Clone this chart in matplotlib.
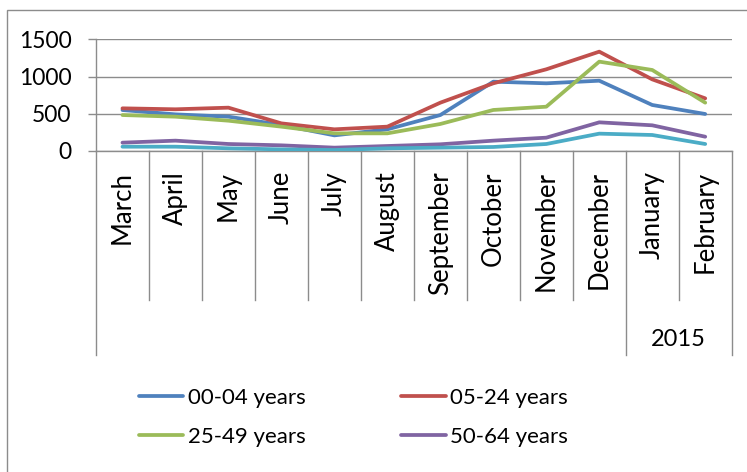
import matplotlib
matplotlib.use("Agg")
import matplotlib.pyplot as plt
import matplotlib.transforms as mtransforms
from matplotlib.lines import Line2D
from matplotlib.patches import Rectangle

plt.rcParams['font.family'] = ['Lato', 'DejaVu Sans']

# ---- data ----
months = ["March", "April", "May", "June", "July", "August", "September",
          "October", "November", "December", "January", "February"]
year_groups = ["", "2015"]
year_group_sizes = [10, 2]
series_names = ["00-04 years", "05-24 years", "25-49 years", "50-64 years", "65+ years"]
s0004 = [550, 492, 461, 349, 210, 291, 483, 931, 909, 944, 618, 497]
s0524 = [573, 560, 582, 371, 291, 327, 649, 909, 1097, 1334, 962, 707]
s2549 = [483, 461, 407, 327, 237, 237, 363, 551, 595, 1200, 1088, 649]
s5064 = [112, 139, 94, 76, 45, 67, 90, 139, 179, 385, 345, 192]
s65plus = [58, 58, 36, 22, 13, 36, 45, 54, 94, 233, 215, 94]
yticks = [0, 500, 1000, 1500]

colors = ["#4F81BD", "#C0504D", "#9BBB59", "#8064A2", "#4BACC6"]
W, H = 747, 472
fig = plt.figure(figsize=(W / 100, H / 100), dpi=100)

def fx(px):
    return px / W

def fy(py):
    return 1 - py / H

ax_left, ax_right, ax_top, ax_bot = 96, 731.7, 39.3, 151
ax = fig.add_axes([fx(ax_left), fy(ax_bot), fx(ax_right - ax_left), (ax_bot - ax_top) / H])

x = list(range(len(months)))
all_series = [s0004, s0524, s2549, s5064, s65plus]
handles = []
for vals, c, name in zip(all_series, colors, series_names):
    h, = ax.plot(x, vals, color=c, lw=2.7, solid_joinstyle='round', solid_capstyle='round', zorder=3)
    handles.append(h)

ax.set_xlim(-0.5, len(months) - 0.5)
ax.set_ylim(0, 1500)
ax.set_yticks(yticks)
ax.set_yticklabels([str(v) for v in yticks], fontsize=16.5)
ax.yaxis.grid(True, color="#8C8C8C", lw=1.0)
ax.set_axisbelow(True)
ax.tick_params(axis='y', length=6, width=1.0, color="#8C8C8C", pad=11.5)
ax.set_xticks([])
for s in ["top", "right"]:
    ax.spines[s].set_visible(False)
for s in ["left", "bottom"]:
    ax.spines[s].set_color("#8C8C8C")
    ax.spines[s].set_linewidth(1.0)

# category dividers and labels
trans = mtransforms.blended_transform_factory(ax.transData, fig.transFigure)
group_edges = [-0.5]
acc = -0.5
for n in year_group_sizes:
    acc += n
    group_edges.append(acc)
for i in range(len(months) + 1):
    xb = i - 0.5
    bottom = 355 if xb in group_edges else 300
    ax.add_line(Line2D([xb, xb], [fy(ax_bot), fy(bottom)], transform=trans,
                       color="#8C8C8C", lw=1.0, clip_on=False))
for i, m in enumerate(months):
    ax.text(i, fy(171), m, transform=trans, rotation=90, ha='center', va='top', fontsize=18.5)
start = -0.5
for g, n in zip(year_groups, year_group_sizes):
    if g:
        ax.text(start + n / 2, fy(340), g, transform=trans, ha='center', va='center', fontsize=17)
    start += n

# chart border (partly cropped)
fig.patches.append(Rectangle((fx(7), -0.1), 1.2, fy(10) + 0.1, transform=fig.transFigure,
                             fill=False, edgecolor="#8C8C8C", lw=1.0))

# legend (the fifth entry is cropped in the reference)
order = [0, 2, 1, 3]
leg = fig.legend([handles[i] for i in order], [series_names[i] for i in order],
                 ncol=2, loc='upper left', bbox_to_anchor=(fx(139), fy(388)),
                 bbox_transform=fig.transFigure, frameon=False, fontsize=16,
                 handlelength=2.0, handletextpad=0.2, labelspacing=0.85,
                 columnspacing=4.3, borderpad=0, borderaxespad=0)

fig.savefig("out.png", dpi=100)
